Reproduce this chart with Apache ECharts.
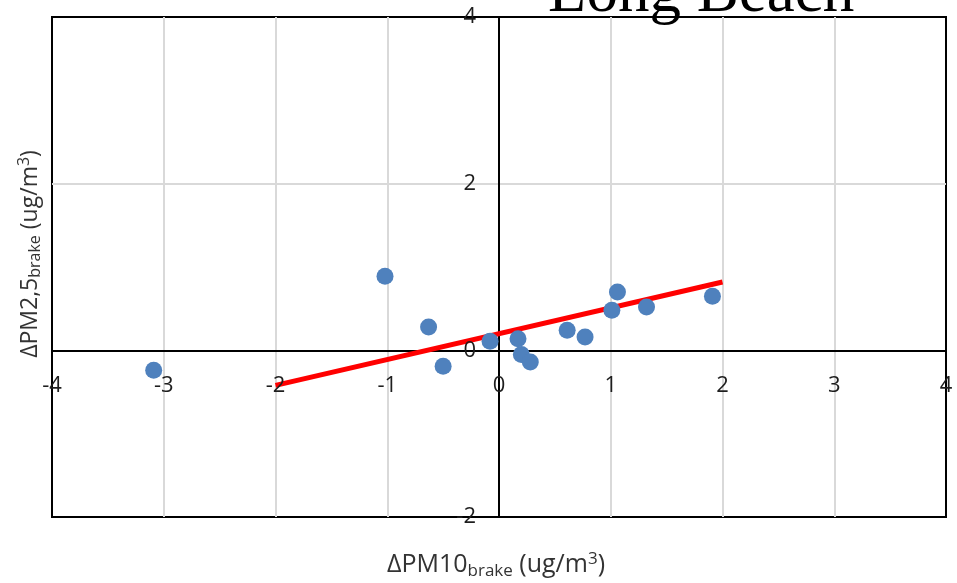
<!DOCTYPE html>
<html>
<head>
<meta charset="utf-8">
<script src="https://cdn.jsdelivr.net/npm/echarts@6/dist/echarts.min.js"></script>
<style>html,body{margin:0;padding:0;background:#fff;}#c{width:957px;height:583px;}</style>
</head>
<body>
<div id="c"></div>
<script>
const pointsX = [-3.09, -1.02, -0.63, -0.50, -0.08, 0.17, 0.20, 0.28, 0.61, 0.77, 1.01, 1.06, 1.32, 1.91];
const pointsY = [-0.24, 0.89, 0.28, -0.19, 0.11, 0.14, -0.05, -0.14, 0.24, 0.16, 0.48, 0.70, 0.52, 0.65];
const trendX = [-2, 2];
const trendY = [-0.42, 0.82];
const xTicks = [-4, -3, -2, -1, 0, 1, 2, 3, 4];
const yTicks = [-2, 0, 2, 4];
const titleText = 'Long Beach';

const chart = echarts.init(document.getElementById('c'), null, {renderer: 'canvas'});
const font = 'Open Sans, Liberation Sans, sans-serif';
const tickColor = '#1e1e1e';
const nameColor = '#333333';
const richStyle = (big, small, shift) => ({
  a: {fontSize: big, fontFamily: font, fill: nameColor, color: nameColor},
  s: {fontSize: small, fontFamily: font, fill: nameColor, color: nameColor, padding: [shift, 0, 0, 0]},
  p: {fontSize: small, fontFamily: font, fill: nameColor, color: nameColor, padding: [0, 0, shift, 0]}
});
const tickLabel = (formatter, align, offset) => ({
  show: true, position: 'inside', align: align, verticalAlign: 'middle', offset: offset,
  formatter: formatter, color: tickColor, fontSize: 22, fontFamily: font,
  textBorderWidth: 0, textBorderColor: 'transparent', opacity: 1
});
chart.setOption({
  animation: false,
  backgroundColor: '#fff',
  grid: {left: 52, right: 11, top: 17, bottom: 66, show: true, borderColor: '#000', borderWidth: 2, backgroundColor: 'transparent'},
  xAxis: {
    type: 'value', min: xTicks[0], max: xTicks[xTicks.length - 1], interval: 1,
    axisLine: {onZero: true, lineStyle: {color: '#000', width: 2}},
    axisTick: {show: false},
    splitLine: {show: true, showMinLine: false, showMaxLine: false, lineStyle: {color: '#d9d9d9', width: 2}},
    axisLabel: {show: false}
  },
  yAxis: {
    type: 'value', min: yTicks[0], max: yTicks[yTicks.length - 1], interval: 2,
    axisLine: {onZero: true, lineStyle: {color: '#000', width: 2}},
    axisTick: {show: false},
    splitLine: {show: true, showMinLine: false, showMaxLine: false, lineStyle: {color: '#d9d9d9', width: 2}},
    axisLabel: {show: false}
  },
  graphic: [
    {type: 'text', left: 548, top: -37, z: 100, style: {text: titleText, fontFamily: 'Liberation Serif, Times New Roman, serif', fontSize: 63, fill: '#000'}},
    {type: 'text', x: 30, y: 254, rotation: Math.PI / 2, z: 100,
      style: {text: '{a|ΔPM2,5}{s|brake}{a| (ug/m}{p|3}{a|)}', align: 'center', verticalAlign: 'middle', rich: richStyle(23, 16, 11)}},
    {type: 'text', x: 496, y: 565, z: 100,
      style: {text: '{a|ΔPM10}{s|brake}{a| (ug/m}{p|3}{a|)}', align: 'center', verticalAlign: 'middle', rich: richStyle(25, 17, 12)}}
  ],
  series: [
    {type: 'line', data: trendX.map((x, i) => [x, trendY[i]]), symbol: 'none', lineStyle: {color: '#ff0000', width: 5}, z: 3},
    {type: 'scatter', data: pointsX.map((x, i) => [x, pointsY[i]]), symbolSize: 17, itemStyle: {color: '#4f81bd', opacity: 1}, z: 4},
    {type: 'scatter', silent: true, clip: false, symbolSize: 1, itemStyle: {color: 'rgba(0,0,0,0)'}, z: 5,
      data: xTicks.map(t => [t, 0]),
      label: tickLabel(p => String(p.value[0]), 'center', [0, 35])},
    {type: 'scatter', silent: true, clip: false, symbolSize: 1, itemStyle: {color: 'rgba(0,0,0,0)'}, z: 5,
      data: yTicks.map(t => [0, t]),
      label: tickLabel(p => String(p.value[1]), 'right', [-23, 0])}
  ]
});
</script>
</body>
</html>
